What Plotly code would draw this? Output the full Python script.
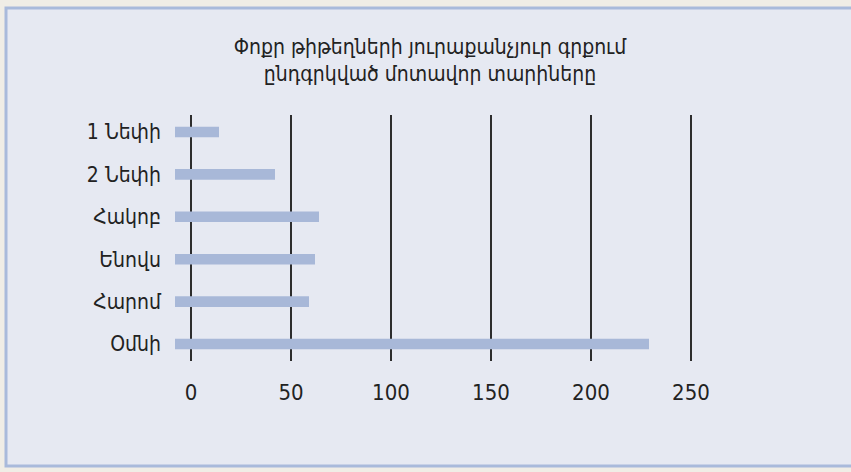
import plotly.graph_objects as go

# ---- data ----
books = ["1 Նեփի", "2 Նեփի", "Հակոբ", "Ենովս", "Հարոմ", "Օմնի"]
years = [14, 42, 64, 62, 59, 229]
x_tick_values = [0, 50, 100, 150, 200, 250]
title_lines = ["Փոքր թիթեղների յուրաքանչյուր գրքում", "ընդգրկված մոտավոր տարիները"]

# ---- layout constants ----
W, H = 851, 472
ML, MR, MT, MB = 175, 120, 115, 111
PW, PH = W - ML - MR, H - MT - MB
X_MIN, X_MAX = -8, 270          # bars start at the left edge of the plot
FONT = "DejaVu Sans Condensed, DejaVu Sans, sans-serif"
BAR_COLOR = "#a8b8d8"
FRAME_FILL = "#e6e9f2"
FRAME_LINE = "#a9badb"
OUTER_BG = "#f0ede6"

fig = go.Figure(
    go.Bar(
        y=books,
        x=[v - X_MIN for v in years],
        base=X_MIN,
        orientation="h",
        width=0.25,
        marker=dict(color=BAR_COLOR, line=dict(width=0)),
        hovertemplate="%{y}: %{customdata}<extra></extra>",
        customdata=years,
    )
)

def px_x(p):
    return (p - ML) / PW

def px_y(p):
    return (H - MB - p) / PH

fig.add_shape(
    type="rect", xref="paper", yref="paper", layer="below",
    x0=px_x(6), x1=px_x(W + 10), y0=px_y(466), y1=px_y(8),
    fillcolor=FRAME_FILL, line=dict(color=FRAME_LINE, width=3),
)

fig.update_layout(
    width=W, height=H,
    margin=dict(l=ML, r=MR, t=MT, b=MB),
    paper_bgcolor=OUTER_BG,
    plot_bgcolor="rgba(0,0,0,0)",
    showlegend=False,
    font=dict(family=FONT, size=21, color="#222222"),
    title=dict(
        text="<br>".join(title_lines),
        x=430 / W, xanchor="center",
        y=1 - 54 / H, yanchor="top",
        font=dict(family=FONT, size=21, color="#222222"),
    ),
    xaxis=dict(
        range=[X_MIN, X_MAX],
        tickmode="array", tickvals=x_tick_values,
        showgrid=True, gridcolor="#2d2d2d", gridwidth=1.5,
        zeroline=False, showline=False, ticks="",
        ticklabelstandoff=16,
        tickfont=dict(size=22),
        fixedrange=True,
    ),
    yaxis=dict(
        type="category",
        categoryorder="array", categoryarray=books,
        range=[len(books) - 0.6, -0.4],
        showgrid=False, zeroline=False, showline=False, ticks="",
        ticklabelstandoff=13,
        tickfont=dict(size=21),
        fixedrange=True,
    ),
)

fig.write_html(
    "out.html",
    config={"displayModeBar": False},
    post_script="document.body.style.margin='0';document.body.style.overflow='hidden';",
)
